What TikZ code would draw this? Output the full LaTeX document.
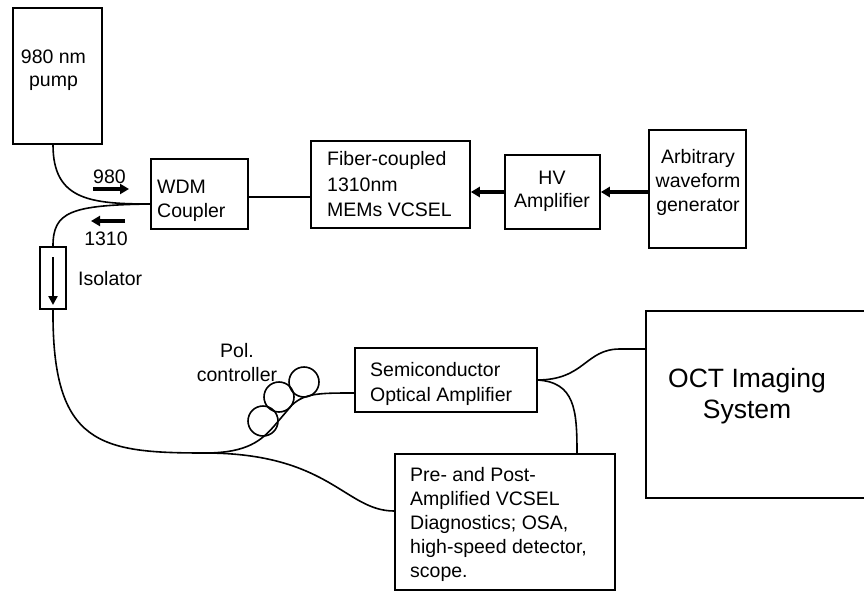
\documentclass[tikz,border=0pt]{standalone}
\usepackage{fontspec}
\setmainfont{Liberation Sans}
\usetikzlibrary{arrows.meta}
\begin{document}
\begin{tikzpicture}[x=1pt,y=-1pt,
  box/.style={draw, line width=1.6pt, rectangle, inner sep=0pt},
  fiber/.style={line width=1.6pt},
  thickarrow/.style={line width=3.4pt, -{Triangle[length=9pt,width=10pt]}},
  txt/.style={inner sep=0pt, font=\fontsize{19.5}{23.5}\selectfont},
  pc/.style={draw, circle, line width=1.6pt, minimum size=30pt, inner sep=0pt}]
\clip (0,0) rectangle (864,591);
\fill[white] (0,0) rectangle (864,591);

% boxes
\node[box, minimum width=89pt, minimum height=136pt] (pump) at (57.5,76) {};
\node[box, minimum width=97pt, minimum height=70pt] (wdm) at (199.5,194) {};
\node[box, minimum width=159pt, minimum height=87pt] (vcsel) at (390.5,184.5) {};
\node[box, minimum width=95pt, minimum height=74pt] (hv) at (552.5,192) {};
\node[box, minimum width=97pt, minimum height=118pt] (awg) at (697.5,189) {};
\node[box, minimum width=26pt, minimum height=62pt] (iso) at (53,278) {};
\node[box, minimum width=182pt, minimum height=64pt] (soa) at (446,380) {};
\node[box, minimum width=220pt, minimum height=136pt] (diag) at (505,522) {};
\node[box, minimum width=232pt, minimum height=187pt] (oct) at (762,404.5) {};

% texts
\node[txt, align=center] (pumpt) at (53.5,70) {980 nm\\pump};
\node[txt, align=left, anchor=west] (wdmt) at (157,201) {WDM\\Coupler};
\node[txt, align=left, anchor=west, font=\fontsize{19.5}{25.5}\selectfont] (vcselt) at (327,184.5) {Fiber-coupled\\1310nm\\MEMs VCSEL};
\node[txt, align=center] (hvt) at (552,191.5) {HV\\Amplifier};
\node[txt, align=center, font=\fontsize{19.5}{24}\selectfont] (awgt) at (698,182) {Arbitrary\\waveform\\generator};
\node[txt, align=left, anchor=west, font=\fontsize{19.5}{25}\selectfont] (soat) at (370,383.5) {Semiconductor\\Optical Amplifier};
\node[txt, align=left, anchor=west, font=\fontsize{19.5}{24}\selectfont] (diagt) at (410,524.5) {Pre- and Post-\\Amplified VCSEL\\Diagnostics; OSA,\\high-speed detector,\\scope.};
\node[txt, align=center, font=\fontsize{26.5}{31}\selectfont] (octt) at (747,396.5) {OCT Imaging\\System};
\node[txt, anchor=base] (l980) at (109.5,183) {980};
\node[txt, anchor=base] (l1310) at (106,245) {1310};
\node[txt, anchor=base west] (isot) at (78,285) {Isolator};
\node[txt, align=center] (polt) at (237,362.5) {Pol.\\controller};

% control arrows
\draw[thickarrow] (awg.west |- hv.east) -- (hv.east);
\draw[thickarrow] (hv.west) -- (vcsel.east |- hv.west);
\draw[fiber] ([yshift=-3pt]wdm.east) -- ([yshift=-3pt]vcsel.west |- wdm.east);

% direction arrows
\coordinate (a980s) at (93,189);
\coordinate (a980e) at (129,189);
\coordinate (a1310s) at (125,221);
\coordinate (a1310e) at (91,221);
\draw[thickarrow] (a980s) -- (a980e);
\draw[thickarrow] (a1310s) -- (a1310e);

% isolator arrow
\coordinate (isoa) at (53,257);
\coordinate (isob) at (53,305);
\draw[line width=2.4pt, -{Triangle[length=9pt,width=9pt]}] (isoa) -- (isob);

% fibers
\coordinate (wdmin) at (151,204);
\coordinate (split) at (205,453);
\draw[fiber] (pump.south -| 53,0) .. controls (53,200) and (90,204) .. (wdmin);
\draw[fiber] (wdmin) .. controls (70,205) and (53,212) .. (iso.north);
\draw[fiber] (iso.south) .. controls (52,445) and (100,453) .. (split);
\draw[fiber] (split) .. controls (248,453) and (262,440) .. (275,425)
   -- (292,405) .. controls (305,393) and (320,393) .. (soa.west |- 0,393);
\draw[fiber] (split) .. controls (330,453) and (345,511) .. (diag.west |- 0,511);
\coordinate (soaout) at (537,380);
\draw[fiber] (soaout) .. controls (585,380) and (585,349) .. (620,349) -- (oct.west |- 0,349);
\draw[fiber] (soaout) .. controls (575,382) and (577,410) .. (diag.north -| 577,0);

% polarization controller paddles
\node[pc] (pc1) at (263,421) {};
\node[pc] (pc2) at (279,397) {};
\node[pc] (pc3) at (304,382) {};
\end{tikzpicture}
\end{document}
